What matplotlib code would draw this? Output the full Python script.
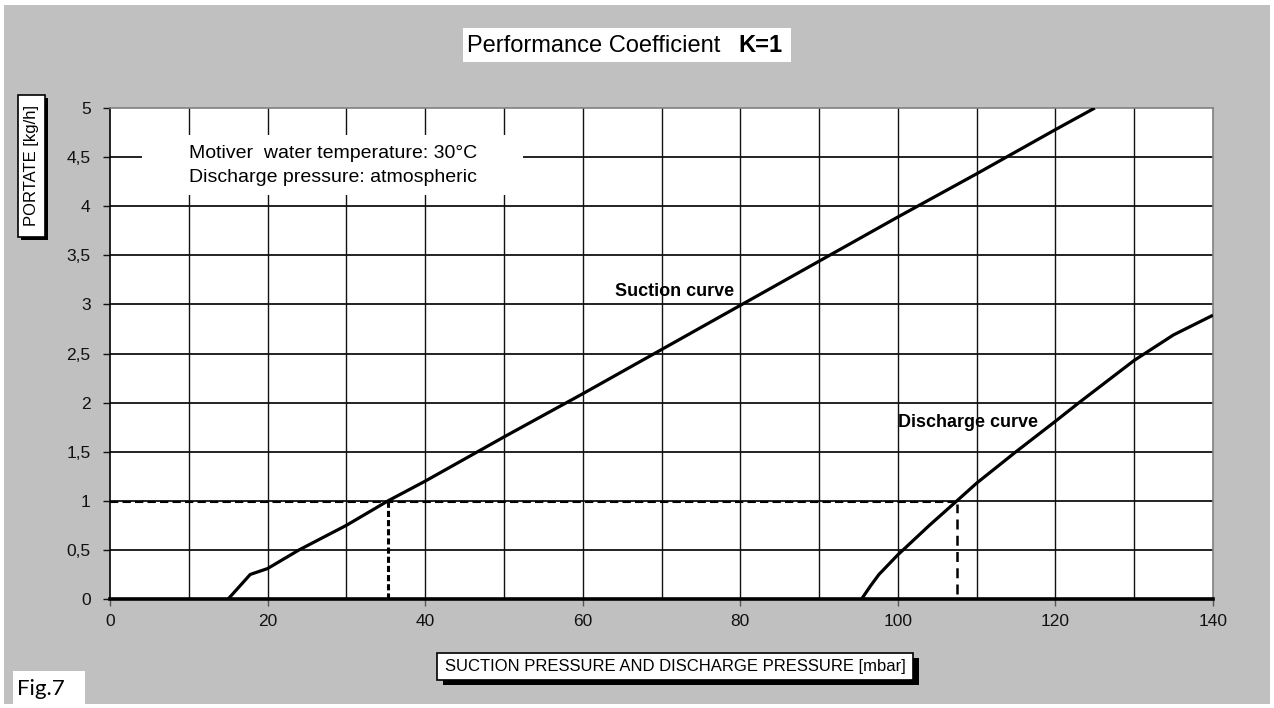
import matplotlib.pyplot as plt
import matplotlib.patches as mpatches
from matplotlib.ticker import FuncFormatter

plt.rcParams['font.family'] = ['Liberation Sans', 'DejaVu Sans']

# curves (mbar, kg/h)
suction_x = [15, 17.8, 20, 24, 30, 35.3, 40, 50, 60, 70, 80, 90, 100, 110, 120, 125]
suction_y = [0, 0.25, 0.31, 0.5, 0.75, 1.0, 1.2, 1.65, 2.09, 2.54, 2.99, 3.44, 3.89, 4.33, 4.78, 5.0]

discharge_x = [95.4, 96.5, 97.6, 100, 104, 107.5, 110, 115, 120, 123, 130, 135, 140]
discharge_y = [0, 0.13, 0.25, 0.45, 0.75, 1.0, 1.18, 1.5, 1.81, 2.0, 2.43, 2.69, 2.89]

# working point
flow = 1.0
suction_at_flow = 35.3
discharge_at_flow = 107.5

x_ticks = [0, 20, 40, 60, 80, 100, 120, 140]
y_ticks = [0, 0.5, 1, 1.5, 2, 2.5, 3, 3.5, 4, 4.5, 5]

W, H = 1274, 708
GRAY = '#c0c0c0'


def fx(x):
    return x / W


def fy(y):
    return 1 - y / H


fig = plt.figure(figsize=(W / 100, H / 100), dpi=100, facecolor='white')

# gray background panel
fig.patches.append(mpatches.Rectangle((fx(4), fy(704)), fx(1270) - fx(4), fy(5) - fy(704),
                                      transform=fig.transFigure, fc=GRAY, ec='none', zorder=-10))

ax = fig.add_axes([fx(110), fy(599), fx(1213) - fx(110), fy(108) - fy(599)])
ax.set_zorder(0)
ax.set_facecolor('white')
ax.set_xlim(0, 140)
ax.set_ylim(0, 5)
ax.set_xticks(x_ticks)
ax.set_yticks(y_ticks)
ax.yaxis.set_major_formatter(FuncFormatter(lambda v, p: ('%g' % v).replace('.', ',')))

# grid lines
for gx in range(10, 140, 10):
    ax.axvline(gx, color='#111111', lw=1.0, zorder=0.5)
for gy in y_ticks[1:-1]:
    ax.axhline(gy, color='#111111', lw=1.3, zorder=0.5)

ax.tick_params(axis='x', direction='out', length=5, width=1, color='#555555', labelsize=12.5, pad=6)
ax.tick_params(axis='y', direction='out', length=5, width=1, color='#111111', labelsize=12.5, pad=9)
for lab in ax.get_xticklabels() + ax.get_yticklabels():
    lab.set_color('#111111')

ax.spines['bottom'].set_linewidth(2.6)
ax.spines['bottom'].set_color('black')
ax.spines['left'].set_linewidth(1.2)
ax.spines['left'].set_color('black')
ax.spines['top'].set_color('#808080')
ax.spines['right'].set_color('#808080')
ax.spines['top'].set_linewidth(1.2)
ax.spines['right'].set_linewidth(1.2)

# note box
ax.add_patch(mpatches.Rectangle((4.1, 4.11), 48.3, 0.61, fc='white', ec='none', zorder=1))
ax.text(28.3, 4.54, 'Motiver  water temperature: 30°C', ha='center', va='center', fontsize=14, zorder=3)
ax.text(28.3, 4.29, 'Discharge pressure: atmospheric', ha='center', va='center', fontsize=14, zorder=3)

# curves
ax.plot(suction_x, suction_y, color='black', lw=2.3, zorder=4, solid_capstyle='butt')
ax.plot(discharge_x, discharge_y, color='black', lw=2.3, zorder=4, solid_capstyle='butt')

# working point lines
ax.plot([0, discharge_at_flow], [flow - 0.012, flow - 0.012], color='black', lw=1.5,
        ls=(0, (4, 2)), zorder=3)
ax.plot([suction_at_flow, suction_at_flow], [0, flow], color='black', lw=2.2,
        ls=(0, (2, 1)), zorder=3)
ax.plot([discharge_at_flow, discharge_at_flow], [0.05, flow - 0.03], color='black', lw=1.8,
        ls=(0, (4, 2.5)), zorder=3)

ax.text(71.6, 3.13, 'Suction curve', ha='center', va='center', fontsize=13,
        fontweight='bold', zorder=5)
ax.text(108.9, 1.8, 'Discharge curve', ha='center', va='center', fontsize=13,
        fontweight='bold', zorder=5)

# title box
fig.patches.append(mpatches.Rectangle((fx(463), fy(62)), fx(791) - fx(463), fy(28) - fy(62),
                                      transform=fig.transFigure, fc='white', ec='none', zorder=1))
fig.text(fx(467), fy(46), 'Performance Coefficient', ha='left', va='center', fontsize=17, zorder=2)
fig.text(fx(783), fy(46), 'K=1', ha='right', va='center', fontsize=17, fontweight='bold', zorder=2)


def label_box(x0, y0, x1, y1, dx, dy):
    fig.patches.append(mpatches.Rectangle((fx(x0 + dx), fy(y1 + dy)), fx(x1) - fx(x0), fy(y0) - fy(y1),
                                          transform=fig.transFigure, fc='black', ec='none', zorder=1))
    fig.patches.append(mpatches.Rectangle((fx(x0), fy(y1)), fx(x1) - fx(x0), fy(y0) - fy(y1),
                                          transform=fig.transFigure, fc='white', ec='black',
                                          lw=1.2, zorder=2))


# y label
label_box(18, 95, 45, 237, 3, 3)
fig.text(fx(31.5), fy(166), 'PORTATE [kg/h]', rotation=90, ha='center', va='center',
         fontsize=12, zorder=3)

# x label
label_box(437, 653, 913, 680, 6, 5)
fig.text(fx(675), fy(667), 'SUCTION PRESSURE AND DISCHARGE PRESSURE [mbar]', ha='center',
         va='center', fontsize=12, zorder=3)

# figure number
fig.patches.append(mpatches.Rectangle((fx(13), fy(705)), fx(85) - fx(13), fy(671) - fy(705),
                                      transform=fig.transFigure, fc='white', ec='none', zorder=1))
fig.text(fx(17), fy(689), 'Fig.7', ha='left', va='center', fontsize=16,
         family=['Lato', 'DejaVu Sans'], zorder=2)

plt.savefig('out.png', dpi=100, facecolor='white')
